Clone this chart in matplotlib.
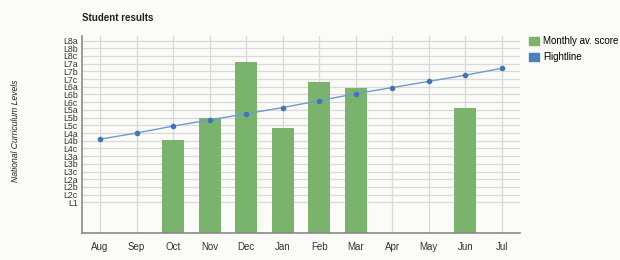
import numpy as np
import matplotlib
matplotlib.use("Agg")
import matplotlib.pyplot as plt
from matplotlib.patches import Patch

plt.rcParams['font.family'] = ['Liberation Sans', 'DejaVu Sans']

months = ['Aug', 'Sep', 'Oct', 'Nov', 'Dec', 'Jan', 'Feb', 'Mar', 'Apr', 'May', 'Jun', 'Jul']
# level labels from bottom (value 4) to top (value 25)
levels = ['L1', 'L2c', 'L2b', 'L2a', 'L3c', 'L3b', 'L3a', 'L4c', 'L4b', 'L4a',
          'L5c', 'L5b', 'L5a', 'L6c', 'L6b', 'L6a', 'L7c', 'L7b', 'L7a',
          'L8c', 'L8b', 'L8a']
level_vals = list(range(4, 4 + len(levels)))

# monthly average score (nan = no bar)
monthly_score = [np.nan, np.nan, 12.1, 15.0, 22.2, 13.7, 19.6, 18.8, np.nan, np.nan, 16.2, np.nan]
flightline = [12.2, 13.0, 13.9, 14.7, 15.5, 16.3, 17.2, 18.1, 18.9, 19.7, 20.5, 21.4]

bar_col = '#7ab36c'
line_col = '#6f9bd0'
marker_col = '#3f76b8'
legend_blue = '#4d7fb8'
bg = '#fbfbf8'

fig = plt.figure(figsize=(6.2, 2.6), dpi=100, facecolor=bg)
ax = fig.add_axes([0.132, 0.103, 0.707, 0.759])
ax.set_facecolor(bg)

x = np.arange(len(months))
ax.bar(x, monthly_score, width=0.6, color=bar_col, zorder=2)
ax.plot(x, flightline, color=line_col, lw=1, marker='o', ms=3,
        mfc=marker_col, mec=marker_col, zorder=3)

ax.set_xlim(-0.5, len(months) - 0.5)
ax.set_ylim(0, 25.6)
ax.set_xticks(x)
ax.set_xticklabels(months, fontsize=7, color='#333333')
ax.set_yticks(level_vals)
ax.set_yticklabels(levels, fontsize=6.3, color='#333333')
ax.tick_params(length=0, pad=3)
ax.tick_params(axis='x', pad=6)

ax.grid(True, color='#d9d9d9', lw=0.9, zorder=0)
ax.set_axisbelow(True)
for s in ['top', 'right']:
    ax.spines[s].set_visible(False)
for s in ['left', 'bottom']:
    ax.spines[s].set_color('#8a8a8a')
    ax.spines[s].set_linewidth(1.2)

fig.text(0.132, 0.92, 'Student results', fontsize=7, fontweight='bold', color='#222222')
fig.text(0.025, 0.496, 'National Curriculum Levels', fontsize=6.2, style='italic',
         rotation=90, ha='center', va='center', color='#222222')

handles = [Patch(color=bar_col, label='Monthly av. score'),
           Patch(color=legend_blue, label='Flightline')]
fig.legend(handles=handles, loc='upper left', bbox_to_anchor=(0.853, 0.86),
           frameon=False, fontsize=7, handlelength=1.0, handleheight=1.0,
           handletextpad=0.5, labelspacing=0.6, borderaxespad=0, borderpad=0)

fig.savefig('out.png', dpi=100, facecolor=bg)
